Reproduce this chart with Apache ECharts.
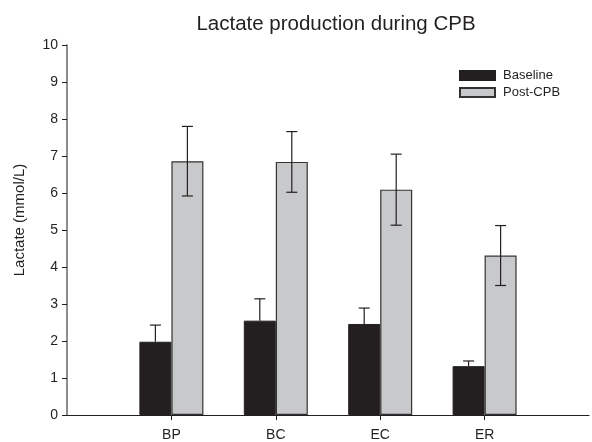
<!DOCTYPE html>
<html>
<head>
<meta charset="utf-8">
<script src="https://cdn.jsdelivr.net/npm/echarts@6/dist/echarts.min.js"></script>
<style>
  html, body { margin: 0; padding: 0; background: #fff; }
  #chart { width: 592px; height: 442px; }
</style>
</head>
<body>
<div id="chart"></div>
<script>
// Sampling sites (blank slots pad both ends of the axis)
const categories = ['', 'BP', 'BC', 'EC', 'ER', ''];

// Mean lactate (mmol/L)
const baseline = [1.98, 2.55, 2.46, 1.32];
const postCPB = [6.86, 6.84, 6.09, 4.31];

// Standard deviations
const baselineErr = [0.45, 0.59, 0.43, 0.14];
const postCPBErr = [0.94, 0.82, 0.96, 0.81];

const yTicks = { min: 0, max: 10, interval: 1 };

const BAR_W = 32;
const CAP_W = 11;
const FONT = 'Liberation Sans, Arial, sans-serif';

const pad = arr => [null].concat(arr, [null]);

function errorBars(means, errs, offset, upOnly) {
  const data = means.map((m, i) => [i + 1, m, errs[i]]);
  return {
    type: 'custom',
    silent: true,
    z: 10,
    data: data,
    renderItem: function (params, api) {
      const x = api.value(0), m = api.value(1), e = api.value(2);
      const top = api.coord([x, m + e]);
      const bot = api.coord([x, upOnly ? m : m - e]);
      const cx = top[0] + offset;
      const style = { stroke: '#231f20', lineWidth: 1.2 };
      const children = [
        { type: 'line', shape: { x1: cx, y1: top[1], x2: cx, y2: bot[1] }, style: style },
        { type: 'line', shape: { x1: cx - CAP_W / 2, y1: top[1], x2: cx + CAP_W / 2, y2: top[1] }, style: style }
      ];
      if (!upOnly) {
        children.push({ type: 'line', shape: { x1: cx - CAP_W / 2, y1: bot[1], x2: cx + CAP_W / 2, y2: bot[1] }, style: style });
      }
      return { type: 'group', children: children };
    }
  };
}

const chart = echarts.init(document.getElementById('chart'), null, { renderer: 'canvas' });
chart.setOption({
  animation: false,
  backgroundColor: '#fff',
  textStyle: { fontFamily: FONT },
  title: {
    text: 'Lactate production during CPB',
    left: 331, top: 9, textAlign: 'center',
    textStyle: { fontSize: 20.5, fontWeight: 'normal', color: '#231f20', fontFamily: FONT }
  },
  legend: {
    data: ['Baseline', 'Post-CPB'],
    orient: 'vertical',
    left: 454, top: 64,
    itemWidth: 35, itemHeight: 9, itemGap: 4,
    icon: 'rect',
    textStyle: { fontSize: 13, color: '#231f20', padding: [0, 0, 0, 3], fontFamily: FONT }
  },
  grid: { left: 67, top: 45, width: 530, height: 370.5, containLabel: false },
  xAxis: {
    type: 'category',
    data: categories,
    boundaryGap: false,
    axisLine: { lineStyle: { color: '#231f20', width: 1.2 } },
    axisTick: {
      show: true, length: 5, inside: false,
      interval: function (index) { return index > 0 && index < categories.length - 1; },
      lineStyle: { color: '#231f20' }
    },
    axisLabel: { color: '#231f20', fontSize: 14, margin: 13, fontFamily: FONT },
    splitLine: { show: false }
  },
  yAxis: {
    type: 'value',
    min: yTicks.min, max: yTicks.max, interval: yTicks.interval,
    name: 'Lactate (mmol/L)',
    nameLocation: 'middle',
    nameGap: 40,
    nameTextStyle: { fontSize: 15, color: '#231f20', padding: [0, 0, 0, 20], fontFamily: FONT },
    axisLine: { show: true, lineStyle: { color: '#666', width: 1.5 } },
    axisTick: { show: true, length: 5, lineStyle: { color: '#231f20' } },
    axisLabel: { color: '#231f20', fontSize: 14, margin: 9, fontFamily: FONT },
    splitLine: { show: false }
  },
  series: [
    {
      name: 'Baseline', type: 'bar', data: pad(baseline),
      barWidth: BAR_W, barGap: '0%',
      itemStyle: { color: '#231f20', borderColor: '#231f20', borderWidth: 1 }
    },
    {
      name: 'Post-CPB', type: 'bar', data: pad(postCPB),
      barWidth: BAR_W, barGap: '0%',
      itemStyle: { color: '#c8c9cb', borderColor: '#333', borderWidth: 1.2 }
    },
    errorBars(baseline, baselineErr, -BAR_W / 2, true),
    errorBars(postCPB, postCPBErr, BAR_W / 2, false)
  ]
});
</script>
</body>
</html>
